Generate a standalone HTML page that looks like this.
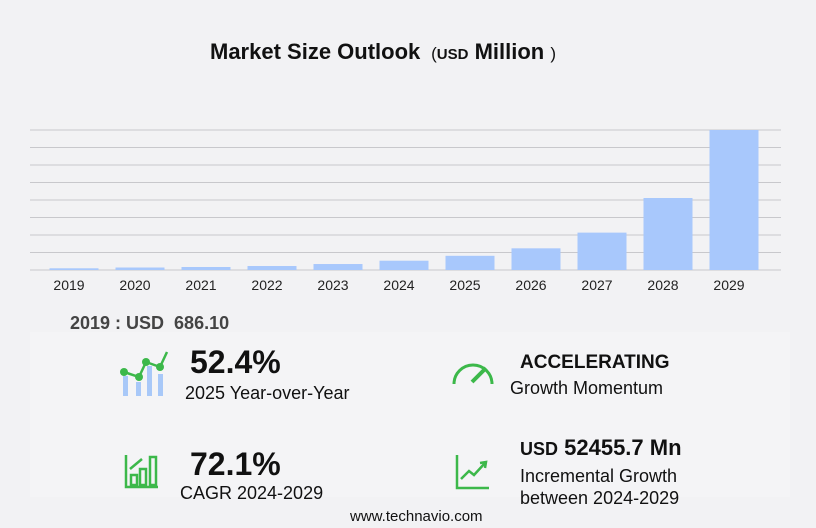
<!DOCTYPE html>
<html><head><meta charset="utf-8"><style>
body{margin:0;width:816px;height:528px;background:#f2f2f4;font-family:"Liberation Sans",sans-serif;position:relative;overflow:hidden}
.t{position:absolute;white-space:nowrap;color:#111}
</style></head><body>
<div class="t" style="left:210px;top:39px;font-size:22px;font-weight:bold">Market Size Outlook <span style="font-size:17px;font-weight:normal">&nbsp;(</span><span style="font-size:15px">USD</span> Million <span style="font-size:17px;font-weight:normal">)</span></div>
<svg id="chart" width="816" height="300" style="position:absolute;left:0;top:0"></svg>
<div style="position:absolute;left:30px;top:332px;width:760px;height:165px;background:#f4f4f6"></div>
<div class="t" style="left:70px;top:313px;font-size:18px;font-weight:bold;color:#444">2019 : USD&nbsp; 686.10</div>
<svg style="position:absolute;left:118px;top:348px" width="54" height="50"><g fill="#a8c8f8"><rect x="5" y="28" width="5" height="20"/><rect x="18" y="34" width="5" height="14"/><rect x="29" y="18" width="5" height="30"/><rect x="40" y="26" width="5" height="22"/></g><polyline points="6,24 21,29 28,14 42,19 49,4" fill="none" stroke="#3cb84a" stroke-width="2.5"/><g fill="#3cb84a"><circle cx="6" cy="24" r="4"/><circle cx="21" cy="29" r="4"/><circle cx="28" cy="14" r="4"/><circle cx="42" cy="19" r="4"/></g></svg>
<div class="t" style="left:190px;top:344px;font-size:32px;font-weight:bold">52.4%</div>
<div class="t" style="left:185px;top:383px;font-size:18px">2025 Year-over-Year</div>
<svg style="position:absolute;left:450px;top:358px" width="46" height="30"><path d="M4,26 A19,19 0 0 1 42,26" fill="none" stroke="#3cb84a" stroke-width="3"/><line x1="22" y1="24" x2="36" y2="10" stroke="#3cb84a" stroke-width="4"/></svg>
<div class="t" style="left:520px;top:352px;font-size:19px;font-weight:bold">ACCELERATING</div>
<div class="t" style="left:510px;top:378px;font-size:18px">Growth Momentum</div>
<svg style="position:absolute;left:124px;top:455px" width="36" height="36" fill="none" stroke="#3cb84a" stroke-width="2.5"><polyline points="2,0 2,32 34,32"/><rect x="7" y="20" width="6" height="10"/><rect x="16" y="14" width="6" height="16"/><rect x="26" y="2" width="6" height="28"/><polyline points="6,14 18,4"/></svg>
<div class="t" style="left:190px;top:446px;font-size:32px;font-weight:bold">72.1%</div>
<div class="t" style="left:180px;top:483px;font-size:18px">CAGR 2024-2029</div>
<svg style="position:absolute;left:455px;top:455px" width="36" height="36" fill="none" stroke="#3cb84a" stroke-width="2.5"><polyline points="2,0 2,33 34,33"/><polyline points="6,24 14,16 19,20 30,8"/><polyline points="25,8 31,7 30,13"/></svg>
<div class="t" style="left:520px;top:435px;font-size:22px;font-weight:bold"><span style="font-size:18px">USD</span> 52455.7 Mn</div>
<div class="t" style="left:520px;top:465px;font-size:18px;line-height:22px">Incremental Growth<br>between 2024-2029</div>
<div class="t" style="left:350px;top:508px;font-size:15px">www.technavio.com</div>
<script>
const categories=["2019","2020","2021","2022","2023","2024","2025","2026","2027","2028","2029"];
const values=[686,1000,1200,1600,2400,3733,5690,8700,15000,28900,56189];
const yMax=56189;
const gridCount=8;
const svg=document.getElementById('chart');const NS='http://www.w3.org/2000/svg';
const y0=270,y1=130,xL=30,xR=781;
const yS=v=>y0-(y0-y1)*v/yMax;
const xS=i=>69+i*66;
for(let g=0;g<=gridCount;g++){const l=document.createElementNS(NS,'line');const y=yS(yMax*g/gridCount);
l.setAttribute('x1',xL);l.setAttribute('x2',xR);l.setAttribute('y1',y);l.setAttribute('y2',y);l.setAttribute('stroke','#c8c8cc');l.setAttribute('stroke-width','1');


svg.appendChild(l);}
categories.forEach((c,i)=>{const r=document.createElementNS(NS,'rect');const y=yS(values[i]);
r.setAttribute('x',xS(i)+5-24.5);r.setAttribute('width',49);r.setAttribute('y',y);r.setAttribute('height',y0-y);r.setAttribute('fill','#a8c8fc');


svg.appendChild(r);
const t=document.createElementNS(NS,'text');t.setAttribute('x',xS(i));t.setAttribute('y',290);t.setAttribute('text-anchor','middle');t.setAttribute('font-size','14');t.setAttribute('fill','#222');t.setAttribute('font-family','Liberation Sans, sans-serif');t.textContent=c;


svg.appendChild(t);});
</script>
</body></html>
